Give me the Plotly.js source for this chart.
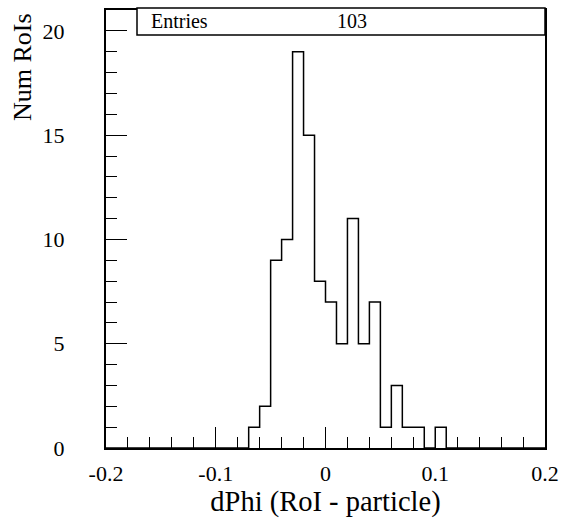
<!DOCTYPE html>
<html>
<head>
<meta charset="utf-8">
<script src="https://cdn.plot.ly/plotly-3.0.1.min.js"></script>
<style>html,body{margin:0;padding:0;background:#fff;}#chart{width:561px;height:521px;}</style>
</head>
<body>
<div id="chart"></div>
<script>
// bin edges (dPhi)
const binEdges = [-0.20,-0.19,-0.18,-0.17,-0.16,-0.15,-0.14,-0.13,-0.12,-0.11,-0.10,
  -0.09,-0.08,-0.07,-0.06,-0.05,-0.04,-0.03,-0.02,-0.01,0.00,
  0.01,0.02,0.03,0.04,0.05,0.06,0.07,0.08,0.09,0.10,
  0.11,0.12,0.13,0.14,0.15,0.16,0.17,0.18,0.19,0.20];
// counts per bin (40 bins)
const binCounts = [0,0,0,0,0,0,0,0,0,0,
  0,0,0,1,2,9,10,19,15,8,
  7,5,11,5,7,1,3,1,1,0,
  1,0,0,0,0,0,0,0,0,0];
const xTickVals = [-0.2,-0.1,0,0.1,0.2];
const xTickText = ["-0.2","-0.1","0","0.1","0.2"];
const yTickVals = [0,5,10,15,20];
const yTickText = ["0","5","10","15","20"];
const statsLabel = "Entries";
const statsValue = "103";

const stepY = binCounts.concat([binCounts[binCounts.length-1]]);

const font = "Liberation Serif, Times New Roman, serif";

const trace = {
  x: binEdges, y: stepY, type: 'scatter', mode: 'lines',
  line: {shape: 'hv', color: '#000', width: 1.5},
  hoverinfo: 'skip', showlegend: false
};

const L = 106, R = 545, T = 10, B = 448;
const W = R - L, H = B - T;
function px(xp){ return (xp - L)/W; }
function py(yp){ return (B - yp)/H; }

const layout = {
  width: 561, height: 521,
  margin: {l: L, r: 561 - R, t: T, b: 521 - B, pad: 0},
  paper_bgcolor: '#fff', plot_bgcolor: '#fff',
  font: {family: font, color: '#000', size: 22},
  showlegend: false,
  xaxis: {
    range: [-0.2, 0.2], showgrid: false, zeroline: false,
    showline: true, mirror: true, linecolor: '#000', linewidth: 2,
    ticks: 'inside', ticklen: 21, tickwidth: 1, tickcolor: '#000',
    tickmode: 'array', tickvals: xTickVals, ticktext: xTickText,
    tickfont: {family: font, size: 22, color: '#000'},
    ticklabelstandoff: 5,
    minor: {tickmode: 'linear', tick0: 0, dtick: 0.02, ticks: 'inside', ticklen: 11, tickwidth: 1, tickcolor: '#000', showgrid: false},
    title: {text: 'dPhi (RoI - particle)', font: {family: font, size: 28.5, color: '#000'}, standoff: 3}
  },
  yaxis: {
    range: [0, 21], showgrid: false, zeroline: false,
    showline: true, mirror: true, linecolor: '#000', linewidth: 2,
    ticks: 'inside', ticklen: 21, tickwidth: 1, tickcolor: '#000',
    tickmode: 'array', tickvals: yTickVals, ticktext: yTickText,
    tickfont: {family: font, size: 22, color: '#000'},
    ticklabelstandoff: 35,
    minor: {tickmode: 'linear', tick0: 0, dtick: 1, ticks: 'inside', ticklen: 11, tickwidth: 1, tickcolor: '#000', showgrid: false}
  },
  shapes: [{
    type: 'rect', xref: 'paper', yref: 'paper',
    x0: px(137), x1: px(545), y0: py(35), y1: py(8),
    fillcolor: '#fff', line: {color: '#000', width: 1.5}, layer: 'above'
  }],
  annotations: [
    {text: 'Num RoIs', xref: 'paper', yref: 'paper', x: 0, y: 1,
     xanchor: 'center', yanchor: 'top', xshift: 22 - L, yshift: -1,
     textangle: -90, showarrow: false, font: {family: font, size: 26, color: '#000'}},
    {text: statsLabel, xref: 'paper', yref: 'paper', x: px(149), y: py(21.5),
     xanchor: 'left', yanchor: 'middle', showarrow: false,
     font: {family: font, size: 20, color: '#000'}},
    {text: statsValue, xref: 'paper', yref: 'paper', x: px(352), y: py(21.5),
     xanchor: 'center', yanchor: 'middle', showarrow: false,
     font: {family: font, size: 20, color: '#000'}}
  ]
};

Plotly.newPlot('chart', [trace], layout, {staticPlot: true, displayModeBar: false});
</script>
</body>
</html>
